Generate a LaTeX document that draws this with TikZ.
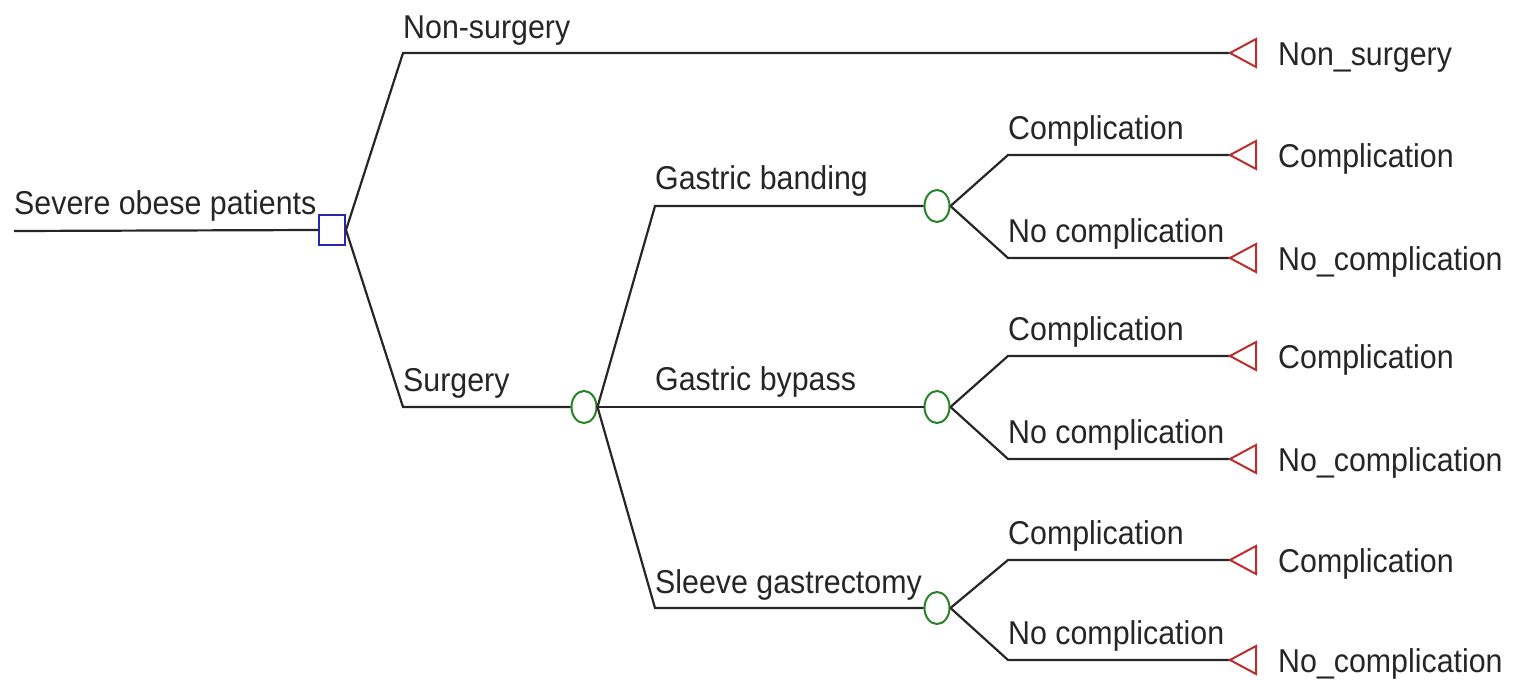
\documentclass[tikz,border=0pt]{standalone}
\usepackage{fontspec}
\setmainfont{Liberation Sans}[FakeStretch=0.92]
\usetikzlibrary{shapes.geometric}
\definecolor{decblue}{RGB}{40,40,170}
\definecolor{chgreen}{RGB}{40,130,40}
\definecolor{termred}{RGB}{190,45,45}
\tikzset{
  edge/.style={line width=2.2pt, draw=black!85},
  decision/.style={draw=decblue, line width=2pt, minimum width=26pt, minimum height=30pt, inner sep=0pt},
  chance/.style={ellipse, draw=chgreen, line width=2pt, minimum width=25pt, minimum height=32pt, inner sep=0pt},
  term/.style={draw=termred, line width=2pt},
  lbl/.style={anchor=base west, inner sep=0pt, font=\fontsize{33}{38}\selectfont, text=black!85},
}
\begin{document}
\begin{tikzpicture}[x=1pt,y=-1pt]
\useasboundingbox (0,0) rectangle (1518,680);
% root
\coordinate (r0) at (14,231);
\node[decision] (D) at (332,230) {};
\draw[edge] (r0) -- (D.west);
\node[lbl] (lroot) at (14,214) {Severe obese patients};
% non-surgery
\coordinate (ns) at (403,53);
\coordinate (t0) at (1230,53);
\draw[edge] (D.east) -- (ns) -- (t0);
\node[lbl] (lns) at (403,38) {Non-surgery};
\draw[term] (t0) -- ++(26,-14) -- ++(0,28) -- cycle;
\node[lbl] (tl0) at (1278,65) {Non\_surgery};
% surgery
\coordinate (s) at (403,407);
\node[chance] (C0) at (584,407) {};
\draw[edge] (D.east) -- (s) -- (C0.west);
\node[lbl] (ls) at (403,391) {Surgery};
% procedures
\coordinate (gb) at (655,206);
\node[chance] (C1) at (937,206) {};
\draw[edge] (C0.east) -- (gb) -- (C1.west);
\node[lbl] (lgb) at (655,189) {Gastric banding};
\node[chance] (C2) at (937,407) {};
\draw[edge] (C0.east) -- (C2.west);
\node[lbl] (lgp) at (655,390) {Gastric bypass};
\coordinate (sg) at (655,608);
\node[chance] (C3) at (937,608) {};
\draw[edge] (C0.east) -- (sg) -- (C3.west);
\node[lbl] (lsg) at (655,593) {Sleeve gastrectomy};
% outcomes
\foreach \c/\ya/\yb in {C1/155/258, C2/356/459, C3/560/660}{
  \coordinate (\c a) at (1008,\ya);
  \coordinate (\c b) at (1008,\yb);
  \coordinate (\c ta) at (1230,\ya);
  \coordinate (\c tb) at (1230,\yb);
  \draw[edge] (\c.east) -- (\c a) -- (\c ta);
  \draw[edge] (\c.east) -- (\c b) -- (\c tb);
  \node[lbl] (\c la) at (1008,\ya-16) {Complication};
  \node[lbl] (\c lb) at (1008,\yb-16) {No complication};
  \draw[term] (\c ta) -- ++(26,-14) -- ++(0,28) -- cycle;
  \draw[term] (\c tb) -- ++(26,-14) -- ++(0,28) -- cycle;
  \node[lbl] (\c xa) at (1278,\ya+12) {Complication};
  \node[lbl] (\c xb) at (1278,\yb+12) {No\_complication};
}
\end{tikzpicture}
\end{document}
